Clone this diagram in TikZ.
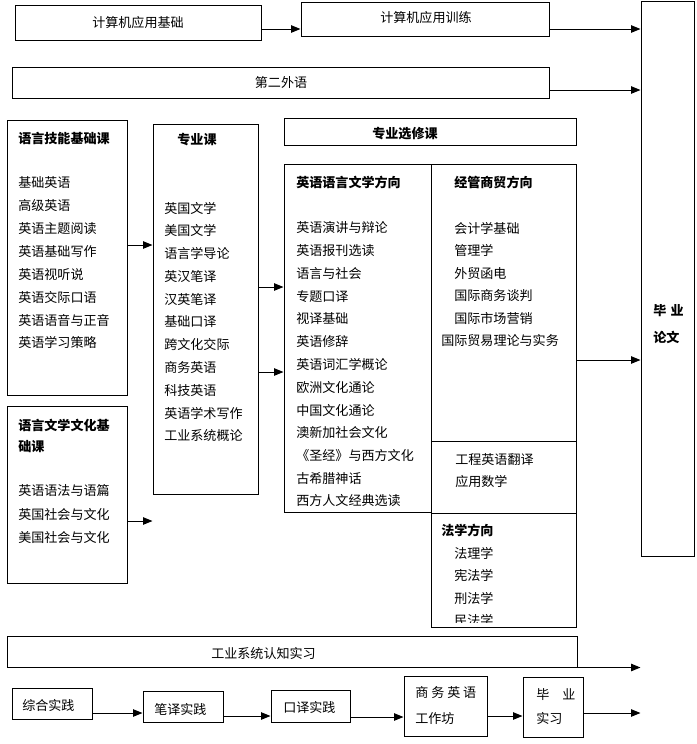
\documentclass[tikz,border=0pt]{standalone}
\usepackage{fontspec}
\newfontfamily\cjk{Noto Sans CJK SC}
\usetikzlibrary{arrows.meta,fit}
\begin{document}
\begin{tikzpicture}[x=0.75pt,y=-0.75pt,
  box/.style={draw, line width=0.75pt, inner sep=0pt, fill=white},
  txt/.style={inner sep=0pt, anchor=west, font=\cjk\fontsize{9.8}{11}\selectfont},
  ctxt/.style={txt, anchor=center},
  ttl/.style={inner sep=0pt, anchor=west, font=\cjk\bfseries\fontsize{9.8}{11}\selectfont},
  arr/.style={line width=0.75pt, -{Triangle[length=7pt,width=5.5pt]}}]
\useasboundingbox (0,0) rectangle (697,744);

% ---------- boxes ----------
\node[box, fit={(15,5)(261,40)}] (A) {};
\node[box, fit={(301,2)(549,36)}] (B) {};
\node[box, fit={(12,67)(549,98)}] (C) {};
\node[box, fit={(641,1)(694,556)}] (thesis) {};
\node[box, fit={(7,120)(127,395)}] (skills) {};
\node[box, fit={(153,124)(258,494)}] (major) {};
\node[box, fit={(7,406)(127,583)}] (culture) {};
\node[box, fit={(284,118)(576,145)}] (elecH) {};
\node[box, fit={(284,164)(431,512)}] (litdir) {};
\node[box, fit={(431,164)(576,441)}] (biz) {};
\node[box, fit={(431,441)(576,513)}] (eng) {};
\node[box, fit={(431,513)(576,627)}] (law) {};
\node[box, fit={(7,636)(577,667)}] (ind) {};
\node[box, fit={(12,688)(92,719)}] (b1) {};
\node[box, fit={(143,691)(223,722)}] (b2) {};
\node[box, fit={(271,690)(350,722)}] (b3) {};
\node[box, fit={(404,676)(487,736)}] (b4) {};
\node[box, fit={(523,677)(583,737)}] (b5) {};

% ---------- texts ----------
\node[ctxt] (tA) at (138,23) {计算机应用基础};
\node[ctxt] (tB) at (426,18) {计算机应用训练};
\node[ctxt] (tC) at (281,83) {第二外语};
\node[ttl] (tth1) at (653,311) {毕\,\,业};
\node[ttl] (tth2) at (653,337) {论文};

\node[ttl] (tsk) at (18,138) {语言技能基础课};
\foreach \t [count=\i] in {基础英语,高级英语,英语主题阅读,英语基础写作,英语视听说,英语交际口语,英语语音与正音,英语学习策略}
  \node[txt] (sk\i) at (18,{183+22.85*(\i-1)}) {\t};

\node[ttl, anchor=center] (tmj) at (197,140) {专业课};
\foreach \t [count=\i] in {英国文学,美国文学,语言学导论,英汉笔译,汉英笔译,基础口译,跨文化交际,商务英语,科技英语,英语学术写作,工业系统概论}
  \node[txt] (mj\i) at (164,{208+22.8*(\i-1)}) {\t};

\node[ttl] (tcu1) at (18,425) {语言文学文化基};
\node[ttl] (tcu2) at (18,447) {础课};
\foreach \t [count=\i] in {英语语法与语篇,英国社会与文化,美国社会与文化}
  \node[txt] (cu\i) at (18,{491+23*(\i-1)}) {\t};

\node[ttl, anchor=center] (tel) at (405,134) {专业选修课};

\node[ttl] (tlit) at (296,182) {英语语言文学方向};
\foreach \t [count=\i] in {英语演讲与辩论,英语报刊选读,语言与社会,专题口译,视译基础,英语修辞,英语词汇学概论,欧洲文化通论,中国文化通论,澳新加社会文化,《圣经》与西方文化,古希腊神话,西方人文经典选读}
  \node[txt] (lt\i) at (296,{228+22.75*(\i-1)}) {\t};

\node[ttl] (tbiz) at (454,182) {经管商贸方向};
\foreach \t [count=\i] in {会计学基础,管理学,外贸函电,国际商务谈判,国际市场营销}
  \node[txt] (bz\i) at (454,{228+22.6*(\i-1)}) {\t};
\node[txt] (bz6) at (441,341) {国际贸易理论与实务};

\node[txt] (en1) at (455,460) {工程英语翻译};
\node[txt] (en2) at (455,482) {应用数学};

\node[ttl] (tlaw) at (441,530) {法学方向};
\node[txt] (lw1) at (454,553) {法理学};
\node[txt] (lw2) at (454,575) {宪法学};
\node[txt] (lw3) at (454,598) {刑法学};
\begin{scope}
  \clip (440,605) rectangle (570,622);
  \node[txt] (lw4) at (454,620) {民法学};
\end{scope}

\node[txt] (tind) at (211,653) {工业系统认知实习};
\node[txt] (tb1) at (22,705) {综合实践};
\node[txt] (tb2) at (154,709) {笔译实践};
\node[txt] (tb3) at (283,707) {口译实践};
\node[txt] (tb4a) at (415,693) {商 务 英 语};
\node[txt] (tb4b) at (415,718) {工作坊};
\node[txt] (tb5a) at (536,695) {毕\hspace{1em}业};
\node[txt] (tb5b) at (536,718) {实习};

% ---------- helper y-levels ----------
\coordinate (y29) at (0,29);
\coordinate (y90) at (0,90);
\coordinate (y245) at (0,245);
\coordinate (y521) at (0,521);
\coordinate (y287) at (0,287);
\coordinate (y372) at (0,372);
\coordinate (y360) at (0,360);
\coordinate (y713) at (0,713);
\coordinate (y716) at (0,716);
\coordinate (y717) at (0,717);

% ---------- connectors ----------
\draw[arr] (A.east |- y29) -- (B.west |- y29);
\draw[arr] (B.east |- y29) -- (thesis.west |- y29);
\draw[arr] (C.east |- y90) -- (thesis.west |- y90);
\draw[arr] (skills.east |- y245) -- (major.west |- y245);
\draw[arr] (culture.east |- y521) -- (major.west |- y521);
\draw[arr] (major.east |- y287) -- (litdir.west |- y287);
\draw[arr] (major.east |- y372) -- (litdir.west |- y372);
\draw[arr] (biz.east |- y360) -- (thesis.west |- y360);
\draw[arr] (ind.south east) -- (thesis.west |- ind.south east);
\draw[arr] (b1.east |- y713) -- (b2.west |- y713);
\draw[arr] (b2.east |- y716) -- (b3.west |- y716);
\draw[arr] (b3.east |- y717) -- (b4.west |- y717);
\draw[arr] (b4.east |- y716) -- (b5.west |- y716);
\draw[arr] (b5.east |- y713) -- (thesis.west |- y713);
\end{tikzpicture}
\end{document}
